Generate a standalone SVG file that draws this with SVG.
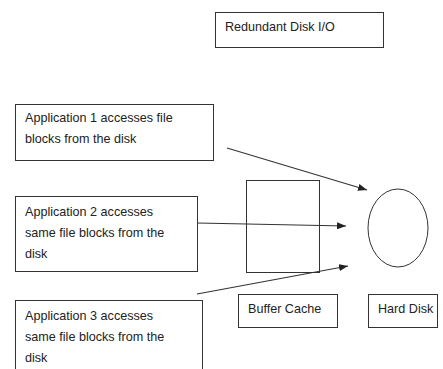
<svg xmlns="http://www.w3.org/2000/svg" width="443" height="369" viewBox="0 0 443 369">
<style>
.box{fill:#fff;stroke:#333;stroke-width:1}
.t{font-family:"Liberation Sans",Arial,sans-serif;font-size:12.6px;fill:#222}
.c{stroke:#333;stroke-width:1.2;fill:none}
</style>
<defs>
<marker id="ah" markerWidth="9" markerHeight="7" refX="9" refY="3.5" orient="auto" markerUnits="userSpaceOnUse">
<path d="M0,0 L9,3.5 L0,7 Z" fill="#222"/>
</marker>
</defs>
<rect width="443" height="369" fill="#fff"/>
<g id="title">
<rect class="box" x="215.5" y="12.5" width="168" height="35"/>
<text class="t" x="225" y="31">Redundant Disk I/O</text>
</g>
<g id="app1">
<rect class="box" x="15.5" y="104.5" width="198" height="56"/>
<text class="t" x="25" y="122">Application 1 accesses file</text>
<text class="t" x="25" y="143">blocks from the disk</text>
</g>
<g id="app2">
<rect class="box" x="15.5" y="196.5" width="182" height="75"/>
<text class="t" x="25" y="216">Application 2 accesses</text>
<text class="t" x="25" y="237">same file blocks from the</text>
<text class="t" x="25" y="258">disk</text>
</g>
<g id="app3">
<rect class="box" x="15.5" y="300.5" width="187" height="75"/>
<text class="t" x="25" y="320">Application 3 accesses</text>
<text class="t" x="25" y="341">same file blocks from the</text>
<text class="t" x="25" y="362">disk</text>
</g>
<g id="buffer-cache">
<rect class="box" x="246.5" y="180.5" width="73" height="92"/>
</g>
<g id="hard-disk">
<ellipse class="box" cx="398" cy="228" rx="30" ry="39"/>
</g>
<g id="buffer-cache-label">
<rect class="box" x="238.5" y="294.5" width="99" height="33"/>
<text class="t" x="248" y="313">Buffer Cache</text>
</g>
<g id="hard-disk-label">
<rect class="box" x="368.5" y="294.5" width="69" height="33"/>
<text class="t" x="378" y="313">Hard Disk</text>
</g>
<g id="connectors">
<line class="c" x1="227" y1="148" x2="367" y2="190" marker-end="url(#ah)"/>
<line class="c" x1="197" y1="223" x2="346" y2="226" marker-end="url(#ah)"/>
<line class="c" x1="197" y1="294" x2="348" y2="266" marker-end="url(#ah)"/>
</g>
</svg>
